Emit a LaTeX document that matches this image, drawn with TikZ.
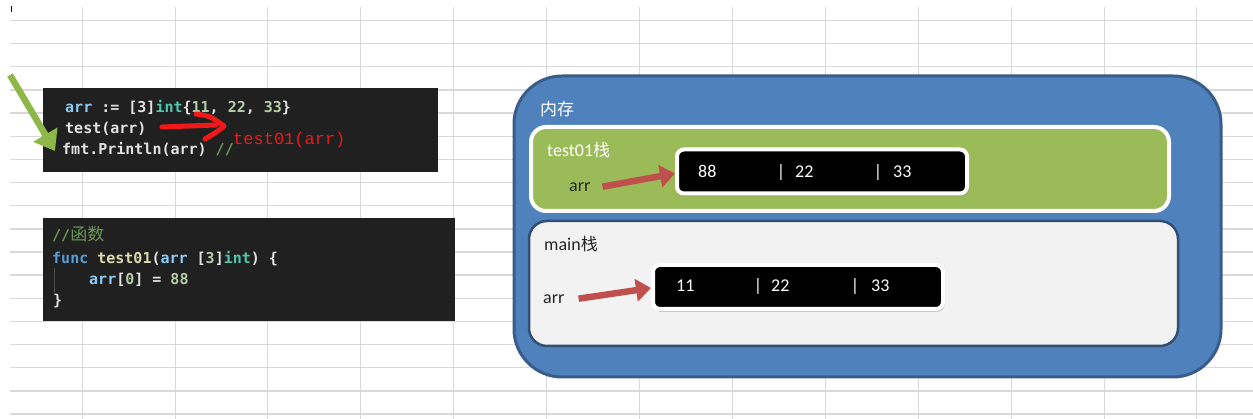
\documentclass[tikz,border=0pt]{standalone}
\usepackage{fontspec}
\setmainfont{Carlito}
\newfontfamily\cjk{Noto Sans CJK SC}
\newfontfamily\codefont{DejaVu Sans Mono}
\newfontfamily\redfont{Liberation Mono}
\usetikzlibrary{arrows.meta,shadows}
\definecolor{gridc}{HTML}{D9D9D9}
\definecolor{codebg}{HTML}{202020}
\definecolor{cvar}{HTML}{8CCBF5}
\definecolor{ckey}{HTML}{569CD6}
\definecolor{ctype}{HTML}{4EC9B0}
\definecolor{cnum}{HTML}{B5CEA8}
\definecolor{cfun}{HTML}{DCDCAA}
\definecolor{cpun}{HTML}{E2E2E2}
\definecolor{ccom}{HTML}{6A9955}
\definecolor{panelblue}{HTML}{4F81BD}
\definecolor{paneledge}{HTML}{385D8A}
\definecolor{stackgreen}{HTML}{9BBB59}
\definecolor{stackgray}{HTML}{F2F2F2}
\definecolor{redarr}{HTML}{C0504D}
\definecolor{handred}{HTML}{F01818}
\definecolor{greenarr}{HTML}{8DB848}
\newcommand\ctxt[2]{{\color{#1}#2}}
\tikzset{
  codebox/.style={fill=codebg, draw=none},
  codeline/.style={inner sep=0pt, anchor=base west, text=cpun,
    font=\codefont\bfseries\fontsize{15}{18}\selectfont},
  lbl/.style={inner sep=0pt, anchor=base west, font=\fontsize{18}{20}\selectfont},
  numtxt/.style={inner sep=0pt, anchor=base west, text=white, font=\fontsize{18}{20}\selectfont},
  barv/.style={inner sep=0pt, anchor=base, text=white, font=\fontsize{18}{20}\selectfont},
  arraybox/.style={rectangle, rounded corners=7pt, fill=black, draw=white,
    line width=4pt, minimum width=290pt, minimum height=44pt, inner sep=0pt,
    drop shadow={opacity=0.35, shadow xshift=1.5pt, shadow yshift=-3pt}},
  memarrow/.style={draw=redarr, line width=6.5pt,
    -{Triangle[length=15pt,width=22pt]}},
  handstroke/.style={draw=handred, line width=5pt, line cap=round, line join=round},
}
\begin{document}
\begin{tikzpicture}[x=1pt,y=-1pt]
\useasboundingbox (0,0) rectangle (1253,419);
\fill[white] (0,0) rectangle (1253,419);
% spreadsheet grid
\foreach \k in {0,...,17}{
  \draw[gridc, line width=1.4pt] (10,{20.5+23.15*\k}) -- (1253,{20.5+23.15*\k});
}
\foreach \k in {0,...,12}{
  \draw[gridc, line width=0.8pt] ({82+92.9*\k},7) -- ({82+92.9*\k},419);
}
\draw[black, line width=1pt] (11,6) -- (11,12);

% code box 1
\node[codebox, minimum width=395pt, minimum height=84pt, inner sep=0pt] (cb1) at (240.5,130) {};
\node[codeline] (l1) at (65,113) {\ctxt{cvar}{arr} := [3]\ctxt{ctype}{int}\{\ctxt{cnum}{11}, \ctxt{cnum}{22}, \ctxt{cnum}{33}\}};
\node[codeline] (l2) at (65,134) {test(arr)};
\node[codeline] (l3) at (62,155) {fmt.Println(arr) \ctxt{ccom}{//}};
\node[inner sep=0pt, anchor=base west, text=handred, font=\redfont\fontsize{17}{20}\selectfont] (redtxt) at (233,145) {test01(arr)};
\coordinate (hs) at (162,127);
\coordinate (he) at (216,125);
\draw[handstroke] (hs) -- (he);
\draw[handstroke] (196,114) .. controls (210,116) .. (224,126) .. controls (217,132) .. (205,139);

% green arrow
\coordinate (gs) at (10,75);
\coordinate (ge) at (55,151);
\draw[draw=greenarr, line width=6.5pt, -{Triangle[length=19pt,width=27pt]}] (gs) -- (ge);

% code box 2
\node[codebox, minimum width=412pt, minimum height=103pt, inner sep=0pt] (cb2) at (249,269.5) {};
\node[codeline] (m1) at (52,241) {\ctxt{ccom}{//{\cjk\mdseries\fontsize{17}{18}\selectfont 函数}}};
\node[codeline] (m2) at (52,264) {\ctxt{ckey}{func} \ctxt{cfun}{test01}(\ctxt{cvar}{arr} [\ctxt{cnum}{3}]\ctxt{ctype}{int}) \{};
\draw[draw=white!30!black, line width=0.8pt] (54,268) -- (54,292);
\node[codeline] (m3) at (89,285) {\ctxt{cvar}{arr}[\ctxt{cnum}{0}] = \ctxt{cnum}{88}};
\node[codeline] (m4) at (53,306) {\}};

% memory panel
\node[rectangle, rounded corners=48pt, fill=panelblue, draw=paneledge, line width=3pt,
  minimum width=707pt, minimum height=301pt, inner sep=0pt] (mem) at (867.5,226.5) {};
\node[lbl, text=white, font=\cjk\fontsize{17}{20}\selectfont] (memlbl) at (540,116) {内存};

% test01 stack
\node[rectangle, rounded corners=15pt, fill=stackgreen, draw=white, line width=4pt,
  minimum width=638pt, minimum height=84pt, inner sep=0pt,
  drop shadow={opacity=0.3, shadow xshift=1pt, shadow yshift=-2.5pt}] (tstack) at (850,169) {};
\node[lbl, text=white] (tlbl) at (547,157) {test01{\cjk\fontsize{17}{20}\selectfont 栈}};
\node[lbl, text=black!85] (arrG) at (569,192) {arr};
\node[arraybox] (box1) at (822,171.5) {};
\node[numtxt] (v11) at (698,178) {88};
\node[barv] (b11) at (781,178) {|};
\node[numtxt] (v12) at (795,178) {22};
\node[barv] (b12) at (878,178) {|};
\node[numtxt] (v13) at (893,178) {33};
\draw[memarrow] ([xshift=12pt,yshift=1pt]arrG.east) -- ([yshift=-2pt]box1.west);

% main stack
\node[rectangle, rounded corners=18pt, fill=stackgray, draw=paneledge!85!black, line width=2.5pt,
  minimum width=649pt, minimum height=125pt, inner sep=0pt,
  drop shadow={opacity=0.3, shadow xshift=1pt, shadow yshift=-2.5pt}] (mstack) at (853.5,283.5) {};
\node[lbl, text=black!85] (mlbl) at (544,251) {main{\cjk\fontsize{17}{20}\selectfont 栈}};
\node[lbl, text=black!85] (arrM) at (543,304) {arr};
\node[arraybox] (box2) at (798,287) {};
\node[numtxt] (v21) at (676,292) {11};
\node[barv] (b21) at (758,292) {|};
\node[numtxt] (v22) at (771,292) {22};
\node[barv] (b22) at (855,292) {|};
\node[numtxt] (v23) at (871,292) {33};
\draw[memarrow] ([xshift=14pt,yshift=1pt]arrM.east) -- ([yshift=-1pt]box2.west);
\end{tikzpicture}
\end{document}
